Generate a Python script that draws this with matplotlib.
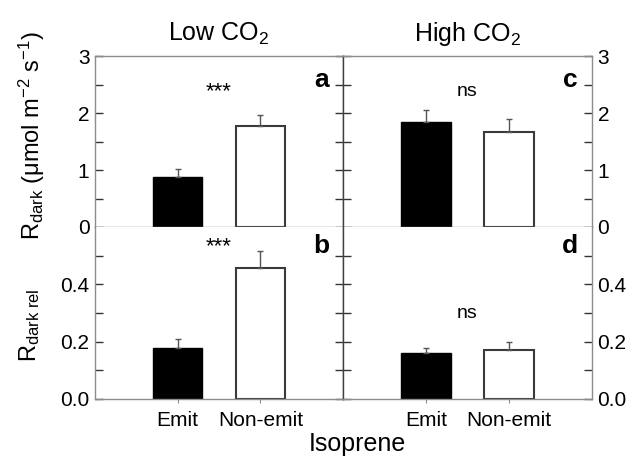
import matplotlib
matplotlib.use("Agg")
import matplotlib.pyplot as plt
from matplotlib.ticker import FixedLocator, FormatStrFormatter

plt.rcParams['font.family'] = ['Liberation Sans', 'DejaVu Sans']
plt.rcParams['mathtext.fontset'] = 'custom'
plt.rcParams['mathtext.rm'] = 'Liberation Sans'
plt.rcParams['mathtext.it'] = 'Liberation Sans:italic'
plt.rcParams['mathtext.bf'] = 'Liberation Sans:bold'

categories = ['Emit', 'Non-emit']
conditions = ['Low CO$_2$', 'High CO$_2$']
panel_letters = [['a', 'c'], ['b', 'd']]
sig_labels = [['***', 'ns'], ['***', 'ns']]

rdark_low = [0.87, 1.77]
rdark_low_err = [0.15, 0.20]
rdark_high = [1.85, 1.66]
rdark_high_err = [0.20, 0.23]

rel_low = [0.177, 0.456]
rel_low_err = [0.031, 0.059]
rel_high = [0.162, 0.171]
rel_high_err = [0.015, 0.028]

values = [[rdark_low, rdark_high], [rel_low, rel_high]]
errors = [[rdark_low_err, rdark_high_err], [rel_low_err, rel_high_err]]

W, H = 632, 458
fig = plt.figure(figsize=(W / 100, H / 100), dpi=100)

def ax_rect(x0, y0, x1, y1):
    return [x0 / W, 1 - y1 / H, (x1 - x0) / W, (y1 - y0) / H]

rects = [[ax_rect(95, 56, 343, 227), ax_rect(343, 56, 592, 227)],
         [ax_rect(95, 227, 343, 399), ax_rect(343, 227, 592, 399)]]

ylims = [(0, 3), (0, 0.6)]
major_ticks = [[0, 1, 2, 3], [0.0, 0.2, 0.4]]
minor_ticks = [[0.5, 1.5, 2.5], [0.1, 0.3, 0.5]]
fmts = ['%d', '%.1f']
sig_y = [[2.37, 2.37], [0.53, 0.30]]
letter_y = [2.58, 0.535]

spine_gray = '#8c8c8c'
mid_gray = '#404040'

x = [0, 1]
for r in range(2):
    for c in range(2):
        ax = fig.add_axes(rects[r][c])
        vals = values[r][c]
        errs = errors[r][c]
        ax.bar(x[0], vals[0], width=0.6, color='black', edgecolor='black', linewidth=1.0, zorder=2)
        ax.bar(x[1], vals[1], width=0.6, color='white', edgecolor='#3a3a3a', linewidth=1.5, zorder=2)
        ax.errorbar(x, vals, yerr=[[0, 0], errs], fmt='none', ecolor='#555555',
                    elinewidth=1.0, capsize=2.5, capthick=1.0, zorder=3)
        ax.set_xlim(-1, 2)
        ax.set_ylim(*ylims[r])
        ax.yaxis.set_major_locator(FixedLocator(major_ticks[r]))
        ax.yaxis.set_minor_locator(FixedLocator(minor_ticks[r]))
        ax.yaxis.set_major_formatter(FormatStrFormatter(fmts[r]))

        for s in ['left', 'right', 'top', 'bottom']:
            ax.spines[s].set_color(spine_gray)
            ax.spines[s].set_linewidth(1.0)
        if c == 0:
            ax.spines['right'].set_color(mid_gray)
        else:
            ax.spines['left'].set_color(mid_gray)
        if r == 1:
            ax.spines['top'].set_visible(False)

        ax.tick_params(axis='y', which='both', direction='in', left=True, right=True,
                       color='#333333', width=1.0, labelsize=15, length=5.5)
        if c == 0:
            ax.tick_params(axis='y', labelleft=True, labelright=False, pad=4)
        else:
            ax.tick_params(axis='y', labelleft=False, labelright=True, pad=4)

        if r == 1:
            ax.set_xticks(x)
            ax.set_xticklabels(categories, fontsize=15)
            ax.tick_params(axis='x', direction='out', length=3, color=spine_gray, pad=6)
        else:
            ax.set_xticks([])
            ax.set_title(conditions[c], fontsize=18, pad=11)

        sig_size = 16 if sig_labels[r][c] == '***' else 14
        ax.text(0.5, sig_y[r][c], sig_labels[r][c], ha='center', va='center', fontsize=sig_size)
        ax.text(1.74, letter_y[r], panel_letters[r][c], ha='center', va='center',
                fontsize=19, fontweight='bold')

fig.text(32 / W, 1 - 136 / H, 'R$_{\\mathrm{dark}}$ (μmol m$^{-2}$ s$^{-1}$)',
         rotation=90, ha='center', va='center', fontsize=17)
fig.text(30 / W, 1 - 325 / H, 'R$_{\\mathrm{dark\\ rel}}$',
         rotation=90, ha='center', va='center', fontsize=17)
fig.text(357 / W, 1 - 444 / H, 'Isoprene', ha='center', va='center', fontsize=18)

fig.savefig('out.png', dpi=100)
